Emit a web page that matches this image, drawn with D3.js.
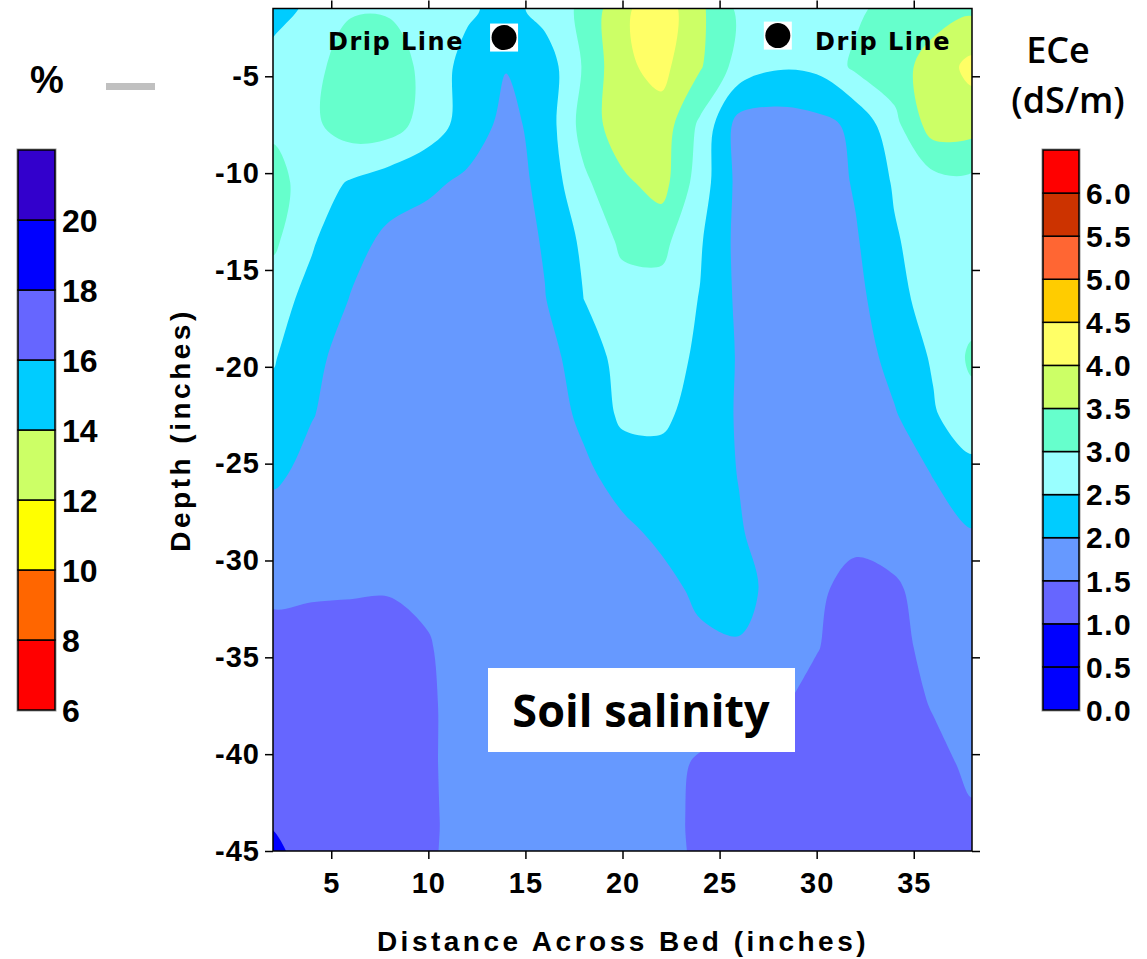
<!DOCTYPE html>
<html>
<head>
<meta charset="utf-8">
<script src="https://cdnjs.cloudflare.com/ajax/libs/d3/7.8.5/d3.min.js"></script>
<style>
  body { margin: 0; background: #fff; }
  svg { display: block; }
</style>
</head>
<body>
<div id="chart-area"></div>
<script>
// Sample grid: distance across bed (inches) and depth (inches)
var gridX = [2, 4, 6, 8, 10, 12, 14, 16, 18, 20, 22, 24, 26, 28, 30, 32, 34, 36, 38];
var gridY = [-1.5, -4.5, -7.5, -10.5, -13.5, -16.5, -19.5, -22.5, -25.5, -28.5, -31.5, -34.5, -37.5, -40.5, -43.5, -46.5];

// ECe (dS/m), one row per depth in gridY, one value per column in gridX
var eceRows = [
  [2.3, 2.6, 2.95, 2.95, 2.8, 2.6, 2.3, 2.7, 3.1, 3.9, 4.3, 3.6, 2.9, 2.7, 2.7, 2.9, 3.2, 3.3, 3.4],
  [2.7, 2.85, 3.25, 3.25, 2.85, 2.3, 2.02, 2.2, 3.05, 3.9, 4.15, 3.55, 2.8, 2.55, 2.6, 3.1, 3.3, 3.7, 4.15],
  [2.9, 2.9, 3.25, 3.25, 2.75, 2.3, 1.85, 2.2, 3.2, 3.8, 3.8, 2.9, 1.8, 1.75, 1.85, 2.1, 2.85, 3.75, 3.7],
  [3.2, 2.75, 2.45, 2.2, 2.1, 1.9, 1.75, 2.15, 2.9, 3.4, 3.7, 2.75, 1.85, 1.7, 1.7, 2.05, 2.55, 2.8, 2.85],
  [3.1, 2.55, 2.15, 1.9, 1.75, 1.7, 1.7, 2.05, 2.6, 3.1, 3.15, 2.55, 1.85, 1.7, 1.7, 1.95, 2.45, 2.75, 2.8],
  [2.7, 2.35, 1.98, 1.75, 1.7, 1.65, 1.65, 1.98, 2.5, 2.8, 2.8, 2.48, 1.9, 1.65, 1.65, 1.85, 2.35, 2.7, 2.75],
  [2.55, 2.1, 1.85, 1.7, 1.65, 1.65, 1.65, 1.85, 2.2, 2.7, 2.7, 2.42, 1.95, 1.6, 1.6, 1.7, 2.2, 2.55, 3.1],
  [2.3, 2.02, 1.8, 1.7, 1.65, 1.65, 1.65, 1.75, 2.1, 2.6, 2.6, 2.3, 1.95, 1.6, 1.55, 1.6, 1.95, 2.45, 2.8],
  [2.1, 1.85, 1.7, 1.65, 1.6, 1.6, 1.65, 1.7, 1.9, 2.2, 2.3, 2.3, 1.98, 1.6, 1.55, 1.55, 1.75, 2.02, 2.35],
  [1.75, 1.7, 1.7, 1.7, 1.65, 1.7, 1.75, 1.75, 1.8, 1.9, 2.1, 2.3, 2.05, 1.7, 1.6, 1.58, 1.65, 1.8, 1.98],
  [1.6, 1.57, 1.55, 1.53, 1.58, 1.75, 1.75, 1.75, 1.8, 1.8, 1.85, 2.1, 2.2, 1.8, 1.55, 1.4, 1.45, 1.65, 1.8],
  [1.3, 1.25, 1.25, 1.3, 1.47, 1.7, 1.75, 1.75, 1.75, 1.75, 1.8, 1.9, 1.95, 1.75, 1.52, 1.3, 1.4, 1.6, 1.7],
  [1.25, 1.2, 1.2, 1.25, 1.45, 1.65, 1.7, 1.7, 1.7, 1.7, 1.65, 1.62, 1.6, 1.55, 1.35, 1.3, 1.35, 1.52, 1.65],
  [1.2, 1.15, 1.2, 1.25, 1.45, 1.65, 1.7, 1.7, 1.7, 1.7, 1.58, 1.47, 1.4, 1.35, 1.3, 1.3, 1.3, 1.4, 1.57],
  [1.05, 1.15, 1.2, 1.25, 1.45, 1.62, 1.7, 1.7, 1.7, 1.7, 1.58, 1.45, 1.35, 1.3, 1.3, 1.3, 1.3, 1.35, 1.45],
  [0.7, 1.15, 1.2, 1.25, 1.45, 1.6, 1.7, 1.7, 1.7, 1.7, 1.58, 1.45, 1.35, 1.3, 1.3, 1.3, 1.3, 1.35, 1.45]
];

// ECe colour classes (right legend)
var eceBreaks = [0, 0.5, 1, 1.5, 2, 2.5, 3, 3.5, 4, 4.5, 5, 5.5, 6, 6.5];
var eceColors = ["#0000ff", "#0000ff", "#6666ff", "#6699ff", "#00ccff", "#99ffff", "#66ffcc",
                 "#ccff66", "#ffff66", "#ffcc00", "#ff6633", "#cc3300", "#ff0000"];
var eceTickLabels = ["0.0", "0.5", "1.0", "1.5", "2.0", "2.5", "3.0", "3.5", "4.0", "4.5", "5.0", "5.5", "6.0"];

// % colour classes (left legend)
var pctBreaks = [6, 8, 10, 12, 14, 16, 18, 20, 22];
var pctColors = ["#ff0000", "#ff6600", "#ffff00", "#ccff66", "#00ccff", "#6666ff", "#0000ff", "#3300cc"];
var pctTickLabels = ["6", "8", "10", "12", "14", "16", "18", "20"];

// axis ticks
var xTicks = [5, 10, 15, 20, 25, 30, 35];
var yTicks = [-5, -10, -15, -20, -25, -30, -35, -40, -45];

// drip line emitters
var dripX = [13.9, 28.0];
var dripY = [-3.0, -2.9];

var W = 1147, H = 959;
var boldSans = "'Liberation Sans', Arial, sans-serif";

var svg = d3.select("#chart-area")
  .append("svg")
  .attr("width", W)
  .attr("height", H);

svg.append("rect").attr("width", W).attr("height", H).attr("fill", "#fff");

// Scales
var x = d3.scaleLinear().domain([2, 38]).range([273, 972]);
var y = d3.scaleLinear().domain([-45, -1.5]).range([851, 8.5]);

// clip for the plot area
svg.append("defs").append("clipPath")
  .attr("id", "plot-clip")
  .append("rect")
  .attr("x", x(2))
  .attr("y", y(-1.5))
  .attr("width", x(38) - x(2))
  .attr("height", y(-45) - y(-1.5));

// Contours
var nx = gridX.length, ny = gridY.length;
var values = [];
eceRows.forEach(function(row) {
  row.forEach(function(v) { values.push(v); });
});

var contours = d3.contours()
  .size([nx, ny])
  .thresholds(eceBreaks.slice(0, -1))(values);

// contour grid coords -> pixels (sample i sits at i + 0.5)
var gx = d3.scaleLinear().domain([0.5, nx - 0.5]).range([x(gridX[0]), x(gridX[nx - 1])]);
var gy = d3.scaleLinear().domain([0.5, ny - 0.5]).range([y(gridY[0]), y(gridY[ny - 1])]);

var ringLine = d3.line()
  .x(function(p) { return gx(p[0]); })
  .y(function(p) { return gy(p[1]); })
  .curve(d3.curveCatmullRomClosed.alpha(0.5));

function contourPath(c) {
  return c.coordinates.map(function(poly) {
    return poly.map(function(ring) {
      return ringLine(ring.slice(0, -1));
    }).join("");
  }).join("");
}

var plot = svg.append("g").attr("clip-path", "url(#plot-clip)");

plot.selectAll("path.band")
  .data(contours)
  .enter()
  .append("path")
  .attr("class", "band")
  .attr("d", contourPath)
  .attr("fill", function(d, i) { return eceColors[i]; })
  .attr("fill-rule", "evenodd")
  .attr("stroke", "none");

// Drip line markers
var drips = svg.append("g");
dripX.forEach(function(dx, i) {
  drips.append("rect")
    .attr("x", x(dx) - 14)
    .attr("y", y(dripY[i]) - 14)
    .attr("width", 28)
    .attr("height", 28)
    .attr("fill", "#fff");
  drips.append("circle")
    .attr("cx", x(dx))
    .attr("cy", y(dripY[i]))
    .attr("r", 12.5)
    .attr("fill", "#000");
});

drips.append("text")
  .attr("x", 328).attr("y", 50)
  .attr("font-family", "'DejaVu Sans', Verdana, sans-serif")
  .attr("font-weight", "bold")
  .attr("font-size", "24px")
  .attr("letter-spacing", "1.5px")
  .text("Drip Line");

drips.append("text")
  .attr("x", 815).attr("y", 50)
  .attr("font-family", "'DejaVu Sans', Verdana, sans-serif")
  .attr("font-weight", "bold")
  .attr("font-size", "24px")
  .attr("letter-spacing", "1.5px")
  .text("Drip Line");

// Soil salinity label
svg.append("rect")
  .attr("x", 488).attr("y", 668)
  .attr("width", 307).attr("height", 84)
  .attr("fill", "#fff");

svg.append("text")
  .attr("x", 641).attr("y", 727)
  .attr("text-anchor", "middle")
  .attr("font-family", "'Open Sans', sans-serif")
  .attr("font-weight", "bold")
  .attr("font-size", "45px")
  .text("Soil salinity");

// Axes
function styleAxis(g) {
  g.select(".domain").remove();
  g.selectAll(".tick line").attr("stroke", "#000").attr("stroke-width", 1.5);
  g.selectAll(".tick text")
    .attr("fill", "#000")
    .attr("font-family", boldSans)
    .attr("font-weight", "bold")
    .attr("font-size", "29px")
    .attr("letter-spacing", "1px");
}

svg.append("g")
  .attr("transform", "translate(0," + y(-45) + ")")
  .call(d3.axisBottom(x).tickValues(xTicks).tickSize(8).tickPadding(13))
  .call(styleAxis);

svg.append("g")
  .attr("transform", "translate(0," + y(-1.5) + ")")
  .call(d3.axisTop(x).tickValues(xTicks).tickSize(8).tickFormat(""))
  .call(styleAxis);

svg.append("g")
  .attr("transform", "translate(" + x(2) + ",0)")
  .call(d3.axisLeft(y).tickValues(yTicks).tickSize(8).tickPadding(5)
    .tickFormat(function(d) { return String(d); }))
  .call(styleAxis);

svg.append("g")
  .attr("transform", "translate(" + x(38) + ",0)")
  .call(d3.axisRight(y).tickValues(yTicks).tickSize(8).tickFormat(""))
  .call(styleAxis);

// frame
svg.append("rect")
  .attr("x", x(2)).attr("y", y(-1.5))
  .attr("width", x(38) - x(2))
  .attr("height", y(-45) - y(-1.5))
  .attr("fill", "none")
  .attr("stroke", "#000")
  .attr("stroke-width", 1.5);

// Axis titles
svg.append("text")
  .attr("x", 623).attr("y", 951)
  .attr("text-anchor", "middle")
  .attr("font-family", boldSans)
  .attr("font-weight", "bold")
  .attr("font-size", "28px")
  .attr("letter-spacing", "3.5px")
  .text("Distance Across Bed (inches)");

svg.append("text")
  .attr("transform", "translate(190,430) rotate(-90)")
  .attr("text-anchor", "middle")
  .attr("font-family", boldSans)
  .attr("font-weight", "bold")
  .attr("font-size", "28px")
  .attr("letter-spacing", "3.5px")
  .text("Depth (inches)");

// Left legend (%)
var pctY = d3.scaleLinear().domain([6, 22]).range([710, 150]);
var leftLegend = svg.append("g");

leftLegend.append("rect")
  .attr("x", 17).attr("y", 149)
  .attr("width", 39).attr("height", 562)
  .attr("fill", "none")
  .attr("stroke", "#999")
  .attr("stroke-width", 1);

leftLegend.selectAll("rect.box")
  .data(pctColors)
  .enter()
  .append("rect")
  .attr("class", "box")
  .attr("x", 18)
  .attr("y", function(d, i) { return pctY(pctBreaks[i + 1]); })
  .attr("width", 37)
  .attr("height", function(d, i) { return pctY(pctBreaks[i]) - pctY(pctBreaks[i + 1]); })
  .attr("fill", function(d) { return d; })
  .attr("stroke", "#000")
  .attr("stroke-width", 1.5);

leftLegend.selectAll("text.lbl")
  .data(pctTickLabels)
  .enter()
  .append("text")
  .attr("class", "lbl")
  .attr("x", 62)
  .attr("y", function(d, i) { return pctY(pctBreaks[i]); })
  .attr("dy", "0.36em")
  .attr("font-family", boldSans)
  .attr("font-weight", "bold")
  .attr("font-size", "32px")
  .text(function(d) { return d; });

leftLegend.append("text")
  .attr("x", 47).attr("y", 93)
  .attr("text-anchor", "middle")
  .attr("font-family", boldSans)
  .attr("font-weight", "bold")
  .attr("font-size", "38px")
  .text("%");

leftLegend.append("rect")
  .attr("x", 106).attr("y", 83)
  .attr("width", 49).attr("height", 7)
  .attr("fill", "#c0c0c0");

// Right legend (ECe)
var eceY = d3.scaleLinear().domain([0, 6.5]).range([710, 150]);
var rightLegend = svg.append("g");

rightLegend.append("rect")
  .attr("x", 1042).attr("y", 149)
  .attr("width", 38).attr("height", 562)
  .attr("fill", "none")
  .attr("stroke", "#999")
  .attr("stroke-width", 1);

rightLegend.selectAll("rect.box")
  .data(eceColors)
  .enter()
  .append("rect")
  .attr("class", "box")
  .attr("x", 1043)
  .attr("y", function(d, i) { return eceY(eceBreaks[i + 1]); })
  .attr("width", 36)
  .attr("height", function(d, i) { return eceY(eceBreaks[i]) - eceY(eceBreaks[i + 1]); })
  .attr("fill", function(d) { return d; })
  .attr("stroke", "#000")
  .attr("stroke-width", 1.5);

rightLegend.selectAll("text.lbl")
  .data(eceTickLabels)
  .enter()
  .append("text")
  .attr("class", "lbl")
  .attr("x", 1086)
  .attr("y", function(d, i) { return eceY(eceBreaks[i]); })
  .attr("dy", "0.36em")
  .attr("font-family", boldSans)
  .attr("font-weight", "bold")
  .attr("font-size", "30px")
  .attr("letter-spacing", "1.5px")
  .text(function(d) { return d; });

rightLegend.append("text")
  .attr("x", 1058).attr("y", 63)
  .attr("text-anchor", "middle")
  .attr("font-family", "'Open Sans', sans-serif")
  .attr("font-weight", "600")
  .attr("font-size", "36px")
  .text("ECe");

rightLegend.append("text")
  .attr("x", 1068).attr("y", 113)
  .attr("text-anchor", "middle")
  .attr("font-family", "'Open Sans', sans-serif")
  .attr("font-weight", "600")
  .attr("font-size", "36px")
  .text("(dS/m)");
</script>
</body>
</html>
